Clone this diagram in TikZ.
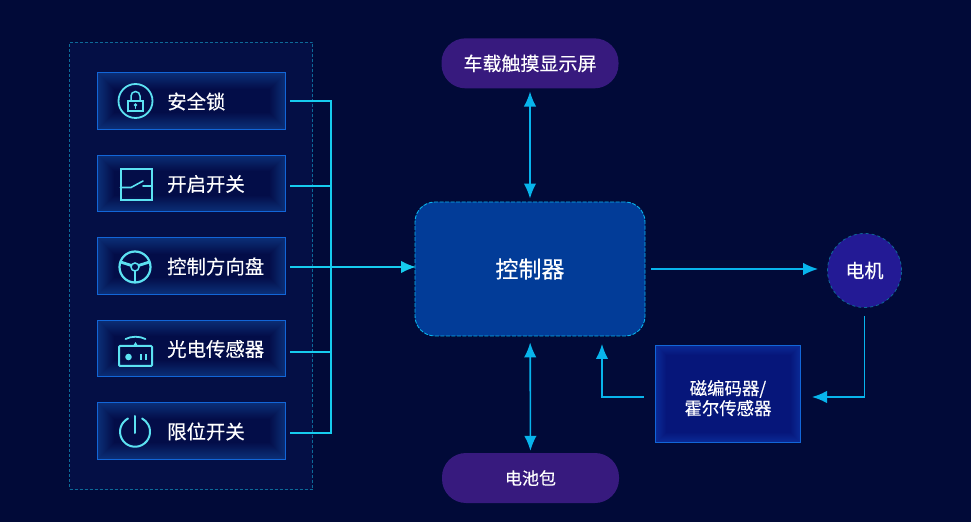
\documentclass[tikz,border=0pt]{standalone}
\usepackage{fontspec}
\setmainfont[FakeBold=0.25]{Noto Sans CJK SC}
\usetikzlibrary{positioning, calc, arrows.meta}
\definecolor{bgnavy}{HTML}{010A38}
\definecolor{groupnavy}{HTML}{040F45}
\definecolor{groupedge}{HTML}{0D6A98}
\definecolor{inboxedge}{HTML}{1266D8}
\definecolor{inboxrim}{HTML}{0B2E76}
\definecolor{inboxcore}{HTML}{030D48}
\definecolor{wirecyan}{HTML}{16CCEE}
\definecolor{arrowblue}{HTML}{08B4EC}
\definecolor{iconcyan}{HTML}{5CE2F2}
\definecolor{ctrlblue}{HTML}{023C98}
\definecolor{pillpurple}{HTML}{371A7E}
\definecolor{motorblue}{HTML}{231A95}
\definecolor{codernavy}{HTML}{06167A}
\definecolor{coderrim}{HTML}{0A2A96}
\tikzset{
x=1pt, y=1pt,
>={Latex[length=15pt, width=12.5pt]}, % solid arrow heads
node distance=25pt, % gap between the input boxes
inbox/.style={draw=inboxedge, line width=1pt, fill=inboxrim, minimum width=188pt, minimum height=56.5pt,
  path picture={
    \foreach \i [evaluate=\i as \m using \i*100/16] in {1,...,16} {
      \fill[inboxcore!\m!inboxrim] ($(path picture bounding box.south west)+(\i,\i)$)
        rectangle ($(path picture bounding box.north east)-(\i,\i)$);
    }
  }}, % box with a soft glow along its rim
inlabel/.style={text=white, font=\fontsize{19.4}{19.4}\selectfont, inner sep=0pt},
ctrlbox/.style={draw=arrowblue, dash pattern=on 4pt off 1.5pt, line width=0.9pt, fill=ctrlblue, rounded corners=20pt, minimum width=230pt,
  minimum height=134pt, text=white, font=\fontsize{23}{23}\selectfont},
pill/.style={fill=pillpurple, rounded corners=24pt, minimum width=177pt,
  minimum height=50pt, text=white, font=\fontsize{19}{19}\selectfont},
motornode/.style={circle, draw=groupedge, dashed, line width=0.8pt, fill=motorblue, minimum size=74pt, inner sep=0pt,
  text=white, font=\fontsize{19}{19}\selectfont},
codernode/.style={draw=inboxedge, line width=1pt, fill=coderrim, minimum width=145pt, minimum height=97pt, align=center,
  text=white, font=\fontsize{17.4}{20}\selectfont,
  path picture={
    \foreach \i [evaluate=\i as \m using \i*100/10] in {1,...,10} {
      \fill[codernavy!\m!coderrim] ($(path picture bounding box.south west)+(\i,\i)$)
        rectangle ($(path picture bounding box.north east)-(\i,\i)$);
    }
  }},
wire/.style={draw=wirecyan, line width=2pt},
link/.style={draw=arrowblue, line width=1.6pt},
icon/.style={draw=iconcyan, line width=1.8pt, line cap=round},
}
\begin{document}
\begin{tikzpicture}
    \useasboundingbox (0,0) rectangle (971,522);
    \fill[bgnavy] (0,0) rectangle (971,522);
    % input group
    \node[draw=groupedge, densely dashed, line width=0.7pt, fill=groupnavy, minimum width=243pt, minimum height=447pt] (inputs) at (191,256) {};
    \node[inbox] (lock) at (191.5,421) {};
    \node[inbox, below=of lock] (startsw) {};
    \node[inbox, below=of startsw] (wheel) {};
    \node[inbox, below=of wheel] (photo) {};
    \node[inbox, below=of photo] (limit) {};
    \node[inlabel, anchor=west] (locktext) at ([xshift=70pt, yshift=-0.5pt]lock.west) {安全锁};
    \node[inlabel, anchor=west] (starttext) at ([xshift=70pt, yshift=-0.5pt]startsw.west) {开启开关};
    \node[inlabel, anchor=west] (wheeltext) at ([xshift=70pt, yshift=-0.5pt]wheel.west) {控制方向盘};
    \node[inlabel, anchor=west] (phototext) at ([xshift=70pt, yshift=-0.5pt]photo.west) {光电传感器};
    \node[inlabel, anchor=west] (limittext) at ([xshift=70pt, yshift=-0.5pt]limit.west) {限位开关};
    % other blocks
    \node[ctrlbox] (ctrl) at (530,253) {控制器};
    \node[pill, above=113pt of ctrl] (screen) {车载触摸显示屏};
    \node[pill, font=\fontsize{17}{17}\selectfont] (battery) at (530.5,44) {电池包};
    \node[motornode] (motor) at (864.5,251.5) {电机};
    \node[codernode] (coder) at (728,128) {\rule{0pt}{23pt}磁编码器/\\霍尔传感器};
    % icons
    \begin{scope}[shift={(135.5,421)}]
        \draw[icon] (0,0) circle (17);
        \draw[icon, line width=1.5pt] (-7.5,-10) rectangle (7.5,0);
        \draw[icon, line width=1.5pt] (-4.5,0) -- (-4.5,5) arc (180:0:4.5) -- (4.5,0);
        \fill[iconcyan] (0,-4) circle (1.8);
        \draw[icon, line width=1pt] (0,-4) -- (0,-7.5);
    \end{scope}
    \begin{scope}[shift={(136,337)}]
        \draw[icon, line cap=butt, line width=2pt] (-15.5,-15.5) rectangle (15.5,15.5);
        \draw[icon, line width=1.6pt] (-15.5,-2.5) -- (-5,-2.5) -- (7,4);
        \draw[icon, line width=1.6pt] (7,-1) -- (15.5,-1);
    \end{scope}
    \begin{scope}[shift={(135,255)}]
        \draw[icon, line width=2.2pt] (0,0) circle (15.5);
        \draw[icon, line width=1.5pt] (0,0) circle (4);
        \draw[icon, line width=2.8pt, line cap=butt] (-3.5,1.5) -- (-14.5,5);
        \draw[icon, line width=2.8pt, line cap=butt] (3.5,1.5) -- (14.5,5);
        \draw[icon, line width=2.8pt, line cap=butt] (0,-4) -- (0,-15);
    \end{scope}
    \begin{scope}[shift={(135.5,166)}]
        \draw[icon, line width=2pt, rounded corners=1pt] (-16.5,-10) rectangle (16.5,10);
        \draw[icon] (-10,17) .. controls (-4,20) and (4,20) .. (10,17);
        \fill[iconcyan] (-2.5,10) -- (0,14) -- (2.5,10) -- cycle;
        \fill[iconcyan] (-7,-1) circle (3.3);
        \fill[iconcyan] (4.5,-4) rectangle (6.5,2);
        \fill[iconcyan] (9.5,-4) rectangle (11.5,2);
    \end{scope}
    \begin{scope}[shift={(135,91)}]
        \draw[icon, line width=2pt] (-7,12.5) arc (118:422:15);
        \draw[icon, line width=2pt] (0,15) -- (0,-2);
    \end{scope}
    % input wires
    \coordinate (wheelout) at ([yshift=-1pt]wheel.east);
    \coordinate (bus) at (331,255);
    \draw[wire, shorten <=4pt] (lock.east) -| (bus);
    \draw[wire, shorten <=4pt] ([yshift=-2.2pt]startsw.east) -| (bus);
    \draw[wire, shorten <=4pt] ([yshift=-3.2pt]photo.east) -| (bus);
    \draw[wire, shorten <=4pt] ([yshift=-1.7pt]limit.east) -| (bus);
    \draw[wire, shorten <=4pt, shorten >=-1.5pt, ->] (wheelout) -- (wheelout -| ctrl.west);
    % links
    \draw[link, <->, shorten <=3pt, shorten >=3pt] (screen) -- (ctrl);
    \draw[link, <->, shorten <=6pt, shorten >=2pt] (ctrl) -- (battery);
    \draw[link, ->, shorten <=6pt, shorten >=9pt] (ctrl.east) -- (motor.west |- ctrl.east);
    \draw[link, ->, shorten <=8pt, shorten >=11pt] (motor.south) |- (coder.east |- 0,125);
    \draw[link, ->, shorten <=11pt, shorten >=8pt] (coder.west |- 0,125) -| (602,186);
\end{tikzpicture}
\end{document}
